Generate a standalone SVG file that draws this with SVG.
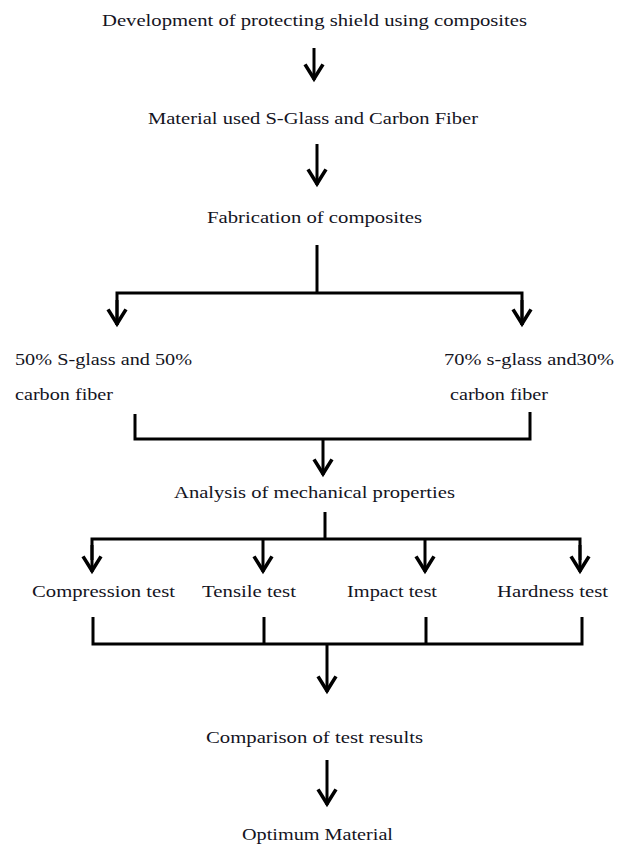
<svg xmlns="http://www.w3.org/2000/svg" width="624" height="844" viewBox="0 0 624 844">
<style>
text{font-family:"Liberation Serif","Times New Roman",serif;font-size:17px;fill:#14141e}
.c{fill:none;stroke:#000;stroke-width:3;stroke-linejoin:miter;stroke-linecap:butt}
</style>
<defs>
<marker id="arr" markerUnits="userSpaceOnUse" markerWidth="24" markerHeight="24" viewBox="-16 -10 20 20" refX="0" refY="0" orient="auto" overflow="visible">
<path d="M-13,-7.5 L-1,0 L-13,7.5" fill="none" stroke="#000" stroke-width="3"/>
</marker>
</defs>
<rect width="624" height="844" fill="#fff"/>
<g id="connectors">
<path class="c" d="M314,48 V80" marker-end="url(#arr)"/>
<path class="c" d="M317,144 V185" marker-end="url(#arr)"/>
<path class="c" d="M317,245 V293"/>
<path class="c" d="M117,325 V293 H522 V325"/>
<path class="c" d="M117,300 V325" marker-end="url(#arr)"/>
<path class="c" d="M522,300 V325" marker-end="url(#arr)"/>
<path class="c" d="M135,414 V439 H530 V412"/>
<path class="c" d="M323,439 V475" marker-end="url(#arr)"/>
<path class="c" d="M325,512 V539"/>
<path class="c" d="M92,560 V539 H580 V560"/>
<path class="c" d="M92,545 V572" marker-end="url(#arr)"/>
<path class="c" d="M263,539 V572" marker-end="url(#arr)"/>
<path class="c" d="M425,539 V572" marker-end="url(#arr)"/>
<path class="c" d="M580,545 V572" marker-end="url(#arr)"/>
<path class="c" d="M93,617 V644 H582 V617"/>
<path class="c" d="M264,617 V644"/>
<path class="c" d="M426,617 V644"/>
<path class="c" d="M327,644 V692" marker-end="url(#arr)"/>
<path class="c" d="M327,760 V805" marker-end="url(#arr)"/>
</g>
<g id="n1"><text x="102" y="26" textLength="425" lengthAdjust="spacingAndGlyphs">Development of protecting shield using composites</text></g>
<g id="n2"><text x="148" y="124" textLength="330" lengthAdjust="spacingAndGlyphs">Material used S-Glass and Carbon Fiber</text></g>
<g id="n3"><text x="207" y="223" textLength="215" lengthAdjust="spacingAndGlyphs">Fabrication of composites</text></g>
<g id="n4"><text x="15" y="365" textLength="177" lengthAdjust="spacingAndGlyphs">50% S-glass and 50%</text><text x="15" y="400" textLength="98" lengthAdjust="spacingAndGlyphs">carbon fiber</text></g>
<g id="n5"><text x="444" y="365" textLength="170" lengthAdjust="spacingAndGlyphs">70% s-glass and30%</text><text x="450" y="400" textLength="98" lengthAdjust="spacingAndGlyphs">carbon fiber</text></g>
<g id="n6"><text x="174" y="498" textLength="281" lengthAdjust="spacingAndGlyphs">Analysis of mechanical properties</text></g>
<g id="n7"><text x="32" y="597" textLength="143" lengthAdjust="spacingAndGlyphs">Compression test</text></g>
<g id="n8"><text x="202" y="597" textLength="94" lengthAdjust="spacingAndGlyphs">Tensile test</text></g>
<g id="n9"><text x="347" y="597" textLength="90" lengthAdjust="spacingAndGlyphs">Impact test</text></g>
<g id="n10"><text x="497" y="597" textLength="111" lengthAdjust="spacingAndGlyphs">Hardness test</text></g>
<g id="n11"><text x="206" y="743" textLength="217" lengthAdjust="spacingAndGlyphs">Comparison of test results</text></g>
<g id="n12"><text x="242" y="840" textLength="151" lengthAdjust="spacingAndGlyphs">Optimum Material</text></g>
</svg>
